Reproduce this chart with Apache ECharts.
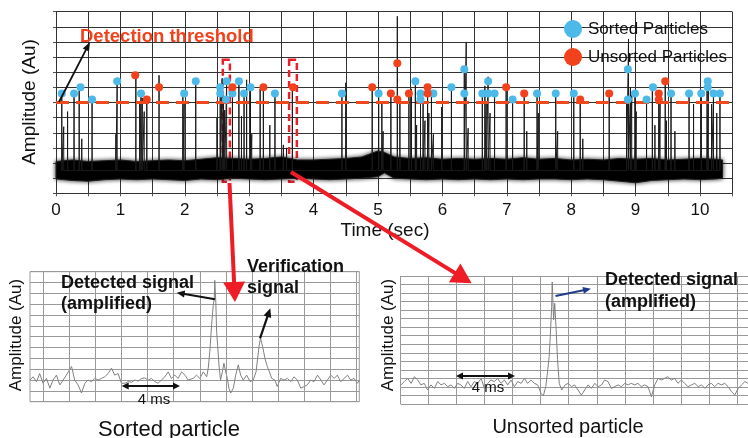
<!DOCTYPE html>
<html>
<head>
<meta charset="utf-8">
<script src="https://cdn.jsdelivr.net/npm/echarts@6/dist/echarts.min.js"></script>
<style>
  html, body { margin: 0; padding: 0; background: #fff; }
  #chart { width: 748px; height: 438px; }
</style>
</head>
<body>
<div id="chart"></div>
<script>
// ---- main recording (time in sec, amplitude in grid units) ----
var threshold = 6;
var spikeBase = 1.5;
// [time, peak] of every spike above the noise floor
var spikes = [
  [0.09, 6.5], [0.12, 4.4], [0.18, 5.4], [0.28, 6.5], [0.36, 7.0], [0.40, 3.6], [0.56, 6.0],
  [0.93, 3.9], [0.95, 7.4], [1.24, 7.7], [1.30, 5.9], [1.32, 6.5], [1.34, 6.3], [1.37, 5.4],
  [1.41, 6.1], [1.60, 7.8], [1.97, 6.5], [1.99, 5.9], [2.17, 7.4], [2.50, 5.0], [2.55, 7.0],
  [2.58, 7.6], [2.60, 6.0], [2.62, 5.5], [2.65, 7.4], [2.74, 7.0], [2.84, 7.4], [2.88, 5.1],
  [2.92, 6.5], [2.96, 7.5], [3.02, 7.0], [3.04, 3.9], [3.17, 6.9], [3.22, 7.0], [3.32, 4.5],
  [3.40, 6.5], [3.53, 3.2], [3.58, 3.0], [3.67, 7.0], [4.44, 6.5], [4.50, 7.3], [4.91, 7.0],
  [5.01, 6.5], [5.06, 5.9], [5.08, 4.1], [5.20, 6.6], [5.30, 11.7], [5.34, 6.2], [5.48, 6.6],
  [5.52, 6.9], [5.58, 7.4], [5.60, 4.5], [5.66, 6.5], [5.70, 5.9], [5.73, 4.8], [5.77, 7.1],
  [5.79, 5.3], [5.83, 6.6], [5.86, 3.9], [5.99, 5.7], [6.14, 6.9], [6.34, 8.2], [6.37, 10.0],
  [6.40, 4.3], [6.62, 6.5], [6.66, 7.1], [6.68, 5.9], [6.71, 7.7], [6.74, 5.3], [6.81, 6.5],
  [6.99, 7.0], [7.09, 6.1], [7.27, 6.6], [7.31, 4.1], [7.47, 6.6], [7.49, 5.3], [7.76, 6.6],
  [7.79, 4.1], [8.04, 6.6], [8.14, 6.1], [8.18, 3.6], [8.59, 6.6], [8.86, 6.1], [8.89, 10.2],
  [8.92, 7.0], [8.94, 6.5], [8.99, 6.6], [9.01, 5.4], [9.17, 6.1], [9.26, 7.1], [9.30, 4.5],
  [9.36, 6.6], [9.38, 6.0], [9.46, 7.4], [9.48, 4.8], [9.55, 6.6], [9.61, 4.1], [9.83, 6.6],
  [9.90, 5.9], [10.02, 6.6], [10.11, 7.5], [10.13, 7.1], [10.18, 5.9], [10.21, 6.6],
  [10.26, 5.3], [10.31, 6.6]
];
var sortedParticles = [
  [0.09, 6.6], [0.28, 6.6], [0.38, 7.0], [0.56, 6.2], [0.95, 7.4], [1.32, 6.6], [1.99, 6.6],
  [2.17, 7.4], [2.55, 7.0], [2.55, 6.6], [2.65, 7.4], [2.64, 6.2], [2.74, 6.6], [2.84, 7.4],
  [2.92, 6.6], [3.02, 7.0], [3.40, 6.6], [4.44, 6.6], [5.01, 6.6], [5.58, 7.4], [5.66, 6.6],
  [5.66, 6.2], [5.86, 6.6], [6.14, 7.0], [6.34, 8.2], [6.34, 6.6], [6.62, 6.6], [6.71, 7.4],
  [6.71, 6.6], [6.81, 6.6], [7.09, 6.2], [7.47, 6.6], [7.76, 6.6], [8.04, 6.6], [8.88, 8.2],
  [8.88, 6.2], [8.99, 6.6], [9.17, 6.2], [9.27, 7.0], [9.55, 6.6], [9.83, 6.6], [10.02, 6.6],
  [10.12, 7.4], [10.12, 7.0], [10.21, 6.6], [10.31, 6.6]
];
var unsortedParticles = [
  [1.23, 7.8], [1.41, 6.2], [1.60, 7.0], [2.74, 7.0], [3.22, 7.0], [3.68, 7.0], [4.91, 7.0],
  [5.20, 6.6], [5.30, 8.6], [5.30, 6.2], [5.48, 6.6], [5.77, 7.0], [5.77, 6.6], [6.99, 7.0],
  [7.27, 6.6], [8.14, 6.2], [8.59, 6.6], [9.36, 6.6], [9.36, 6.2], [9.46, 7.4]
];
// noise floor envelope
var noiseT = [0, 0.25, 0.5, 0.75, 1, 1.25, 1.5, 1.75, 2, 2.25, 2.5, 2.75, 3, 3.25, 3.5, 3.75, 4,
  4.25, 4.5, 4.75, 5, 5.1, 5.25, 5.5, 5.75, 6, 6.25, 6.5, 6.75, 7, 7.25, 7.5, 7.75, 8, 8.25,
  8.5, 8.75, 9, 9.25, 9.5, 9.75, 10, 10.25, 10.35];
var noiseUpper = [2.1, 2.2, 2.1, 2.15, 2.2, 2.1, 2.15, 2.2, 2.15, 2.25, 2.35, 2.3, 2.25, 2.3,
  2.4, 2.2, 2.2, 2.25, 2.3, 2.4, 2.8, 2.7, 2.4, 2.3, 2.35, 2.25, 2.3, 2.25, 2.3, 2.25, 2.35,
  2.25, 2.3, 2.2, 2.25, 2.2, 2.3, 2.25, 2.3, 2.2, 2.25, 2.3, 2.25, 2.2];
var noiseLower = [0.95, 0.85, 0.8, 0.9, 0.95, 0.9, 0.95, 0.9, 0.85, 0.95, 0.9, 1.0, 0.95, 0.9,
  0.95, 1.0, 0.95, 0.9, 0.95, 1.0, 1.1, 1.35, 1.0, 0.95, 0.9, 0.95, 0.9, 0.95, 0.9, 0.95, 0.9,
  0.95, 0.95, 0.9, 0.95, 0.9, 0.8, 0.7, 0.85, 0.9, 0.95, 0.9, 0.95, 1.0];
// dashed boxes marking the zoomed windows [t0, t1]
var zoomWindows = [[2.59, 2.70], [3.62, 3.74]];
var windowLow = 0.77, windowHigh = 8.83;

// ---- amplified traces (grid units) ----
var sortedTrace = [
  [-0.5, 2.0], [-0.38, 2.3], [-0.25, 1.85], [-0.13, 2.6], [0, 1.7], [0.13, 2.15], [0.26, 1.25],
  [0.38, 2.0], [0.51, 2.45], [0.64, 1.55], [0.77, 2.0], [0.89, 2.45], [1.09, 3.25], [1.21, 2.0],
  [1.34, 1.55], [1.47, 0.8], [1.6, 1.7], [1.72, 2.0], [1.85, 1.85], [1.98, 2.15], [2.11, 2.0],
  [2.23, 2.15], [2.36, 2.3], [2.49, 2.6], [2.62, 3.1], [2.74, 2.45], [2.87, 2.6], [3.0, 1.7],
  [3.13, 1.7], [3.26, 1.85], [3.38, 1.8], [3.51, 2.0], [3.64, 1.9], [3.77, 2.15], [3.89, 2.2],
  [4.02, 2.0], [4.15, 2.15], [4.28, 1.85], [4.4, 1.7], [4.53, 2.0], [4.66, 2.3], [4.79, 2.75],
  [4.91, 2.15], [5.04, 2.45], [5.17, 2.15], [5.3, 2.75], [5.43, 2.45], [5.55, 2.0], [5.62, 2.0],
  [5.74, 2.15], [5.87, 2.45], [6.0, 2.15], [6.13, 2.75], [6.26, 2.3], [6.32, 3.1], [6.38, 4.6],
  [6.45, 7.1], [6.51, 8.9], [6.55, 9.5], [6.57, 11.2], [6.61, 9.2], [6.64, 6.5], [6.68, 5.2],
  [6.73, 3.4], [6.79, 2.0], [6.86, 2.75], [6.92, 3.55], [6.99, 2.75], [7.05, 2.15], [7.11, 1.25],
  [7.18, 0.8], [7.28, 1.25], [7.37, 2.45], [7.47, 3.4], [7.56, 2.45], [7.66, 2.0], [7.79, 2.45],
  [7.92, 1.85], [8.04, 2.0], [8.15, 2.75], [8.21, 4.0], [8.27, 5.2], [8.32, 5.85], [8.4, 5.1],
  [8.49, 4.0], [8.58, 3.25], [8.66, 2.75], [8.75, 2.15], [8.87, 2.0], [8.96, 1.4], [9.09, 2.15],
  [9.22, 2.0], [9.35, 2.15], [9.48, 1.85], [9.6, 2.3], [9.73, 2.0], [9.86, 1.25], [9.99, 1.4],
  [10.11, 1.55], [10.24, 2.0], [10.37, 1.85], [10.5, 2.45], [10.63, 2.0], [10.75, 1.55],
  [10.88, 2.0], [11.01, 2.45], [11.14, 2.15], [11.26, 2.45], [11.39, 1.85], [11.52, 2.15],
  [11.65, 2.45], [11.77, 2.0], [11.9, 2.15], [12.03, 1.7], [12.1, 2.0]
];
var unsortedTrace = [
  [0.01, 2.24], [0.13, 2.63], [0.25, 3.0], [0.37, 2.42], [0.49, 3.2], [0.61, 2.81], [0.72, 2.24],
  [0.84, 2.42], [0.96, 1.64], [1.08, 2.24], [1.2, 1.83], [1.32, 2.63], [1.44, 2.24], [1.56, 2.42],
  [1.68, 2.03], [1.8, 2.24], [1.92, 1.83], [2.03, 2.42], [2.15, 2.24], [2.27, 1.83], [2.39, 2.63],
  [2.51, 2.03], [2.63, 2.63], [2.75, 2.42], [2.87, 3.0], [2.99, 1.83], [3.11, 2.42], [3.22, 2.81],
  [3.34, 2.63], [3.46, 3.0], [3.58, 2.42], [3.7, 2.81], [3.82, 2.24], [3.94, 2.81], [4.06, 2.03],
  [4.18, 2.63], [4.3, 2.42], [4.42, 3.0], [4.53, 2.42], [4.65, 2.81], [4.77, 2.42], [4.89, 2.24],
  [5.01, 1.25], [5.09, 0.94], [5.18, 2.03], [5.25, 4.0], [5.3, 5.55], [5.34, 7.9], [5.39, 11.4],
  [5.41, 14.3], [5.46, 9.85], [5.5, 11.8], [5.55, 8.7], [5.6, 5.2], [5.66, 2.42], [5.75, 1.64],
  [5.87, 2.24], [5.98, 2.42], [6.1, 2.03], [6.21, 2.24], [6.33, 1.64], [6.45, 1.05], [6.57, 1.64],
  [6.69, 2.24], [6.81, 1.83], [6.93, 2.42], [7.05, 2.03], [7.17, 2.24], [7.28, 2.81], [7.4, 2.63],
  [7.52, 1.83], [7.64, 2.03], [7.76, 2.24], [7.88, 2.03], [8.0, 2.42], [8.12, 2.24], [8.23, 2.42],
  [8.35, 2.24], [8.47, 2.42], [8.59, 2.03], [8.71, 2.24], [8.83, 2.03], [8.95, 0.86], [9.07, 2.24],
  [9.19, 3.0], [9.31, 2.81], [9.42, 3.0], [9.54, 3.2], [9.66, 2.81], [9.78, 3.0], [9.9, 2.42],
  [10.02, 2.81], [10.14, 2.42], [10.26, 2.03], [10.38, 2.24], [10.5, 2.42], [10.62, 2.03],
  [10.74, 2.24], [10.86, 1.83], [10.97, 2.24], [11.09, 2.42], [11.21, 2.03], [11.33, 2.42],
  [11.45, 2.24], [11.57, 2.42], [11.69, 2.03], [11.81, 1.44], [11.93, 1.05], [12.05, 1.83],
  [12.17, 2.24], [12.29, 2.63], [12.4, 2.42]
];
var sortedPanelLines = [0, 1, 2, 3, 4, 5, 6, 7, 8, 9, 10, 11, 12];

var FONT = '"Liberation Sans", Arial, sans-serif';
var BLUE = '#4db9e9', ORANGE = '#f2421b', RED = '#ee1c25';

// spikes drawn as up-down strokes from the noise floor
var spikeLine = [];
spikes.forEach(function (s) {
  spikeLine.push([s[0], spikeBase], [s[0], s[1]], [s[0], spikeBase]);
});

function txt(x, y, text, size, opt) {
  opt = opt || {};
  return {
    type: 'text', x: x, y: y, rotation: opt.rot || 0, z: 50,
    style: {
      text: text, fill: opt.color || '#111',
      font: (opt.weight || 'normal') + ' ' + size + 'px ' + FONT,
      textAlign: opt.align || 'left', align: opt.align || 'left',
      textVerticalAlign: 'middle', verticalAlign: 'middle'
    }
  };
}
function head(x1, y1, x2, y2, len, w, color) {
  var dx = x2 - x1, dy = y2 - y1, d = Math.sqrt(dx * dx + dy * dy);
  var ux = dx / d, uy = dy / d;
  var bx = x2 - ux * len, by = y2 - uy * len;
  return {
    type: 'polygon', z: 50,
    shape: { points: [[x2, y2], [bx - uy * w / 2, by + ux * w / 2], [bx + uy * w / 2, by - ux * w / 2]] },
    style: { fill: color }
  };
}
function arrow(x1, y1, x2, y2, color, lw, len, w, both) {
  var dx = x2 - x1, dy = y2 - y1, d = Math.sqrt(dx * dx + dy * dy);
  var ux = dx / d, uy = dy / d;
  var out = [{
    type: 'line', z: 50,
    shape: { x1: both ? x1 + ux * len * 0.8 : x1, y1: both ? y1 + uy * len * 0.8 : y1,
             x2: x2 - ux * len * 0.8, y2: y2 - uy * len * 0.8 },
    style: { stroke: color, lineWidth: lw }
  }, head(x1, y1, x2, y2, len, w, color)];
  if (both) out.push(head(x2, y2, x1, y1, len, w, color));
  return out;
}

var graphics = [].concat(
  [txt(80, 37, 'Detection threshold', 18.5, { color: ORANGE, weight: 'bold' })],
  arrow(59, 102, 90, 42, '#111', 1.8, 9, 7),
  [txt(385, 231, 'Time (sec)', 19, { align: 'center' })],
  [txt(30, 102, 'Amplitude (Au)', 19, { align: 'center', rot: Math.PI / 2 })],
  arrow(229.5, 183, 235, 302, RED, 4, 20, 22),
  arrow(291, 172, 471.7, 283.3, RED, 4, 20, 22),
  // sorted particle panel
  [txt(61, 283, 'Detected signal', 18, { weight: 'bold' }),
   txt(61, 304, '(amplified)', 18, { weight: 'bold' }),
   txt(247, 267, 'Verification', 18, { weight: 'bold' }),
   txt(247, 288.5, 'signal', 18, { weight: 'bold' })],
  arrow(215, 299.3, 176.7, 292.7, '#111', 2, 8, 7),
  arrow(260, 338.3, 270.3, 308.3, '#111', 2.2, 9, 8),
  arrow(121.7, 386, 180, 386, '#111', 2, 7, 7, true),
  [txt(154, 400, '4 ms', 15, { align: 'center' }),
   txt(169, 430, 'Sorted particle', 22, { align: 'center' }),
   txt(16.7, 335, 'Amplitude (Au)', 17, { align: 'center', rot: Math.PI / 2 })],
  // unsorted particle panel
  [txt(388.3, 335, 'Amplitude (Au)', 17, { align: 'center', rot: Math.PI / 2 }),
   txt(605, 280, 'Detected signal', 18, { weight: 'bold' }),
   txt(605, 301.7, '(amplified)', 18, { weight: 'bold' })],
  arrow(555.5, 296, 591, 288.7, '#1f3c88', 2.2, 8, 7),
  arrow(456, 376, 515, 376, '#111', 2, 7, 7, true),
  [txt(488, 388, '4 ms', 15, { align: 'center' }),
   txt(568, 427, 'Unsorted particle', 20, { align: 'center' })]
);

var hiddenAxis = {
  axisLine: { show: false }, axisTick: { show: false }, axisLabel: { show: false }
};

var chart = echarts.init(document.getElementById('chart'));
chart.setOption({
  animation: false,
  textStyle: { fontFamily: FONT },
  grid: [
    { left: 56, top: 11.7, width: 676.2, height: 181.6, outerBoundsMode: 'none' },
    { left: 30, top: 271.7, width: 329.3, height: 130, outerBoundsMode: 'none',
      show: true, borderColor: '#999', borderWidth: 1 },
    { left: 400.7, top: 276, width: 347.3, height: 128, outerBoundsMode: 'none' }
  ],
  legend: {
    orient: 'vertical', left: 559, top: 15, itemWidth: 18, itemHeight: 18, itemGap: 10, z: 20,
    icon: 'circle', data: ['Sorted Particles', 'Unsorted Particles'],
    textStyle: { fontSize: 17, color: '#111', fontFamily: FONT, padding: [0, 0, 0, 1] }
  },
  xAxis: [
    { gridIndex: 0, type: 'value', min: 0, max: 10.5, interval: 0.5,
      axisLine: { show: true, lineStyle: { color: '#333' } },
      axisTick: { show: true, length: 3, lineStyle: { color: '#555' } },
      axisLabel: { fontSize: 17, color: '#111', margin: 9,
        formatter: function (v) { return Number.isInteger(v) ? String(v) : ''; } },
      splitLine: { show: true, lineStyle: { color: '#333', width: 1 } } },
    Object.assign({ gridIndex: 1, type: 'value', min: -0.5, max: 12.1,
      splitLine: { show: false } }, hiddenAxis),
    Object.assign({ gridIndex: 2, type: 'value', min: 0, max: 12.4, interval: 1,
      splitLine: { show: true, lineStyle: { color: '#999', width: 1 } } }, hiddenAxis)
  ],
  yAxis: [
    { gridIndex: 0, type: 'value', min: 0, max: 12, interval: 1,
      axisLine: { show: true, lineStyle: { color: '#333' } },
      axisTick: { show: true, length: 3, lineStyle: { color: '#555' } },
      axisLabel: { show: false },
      splitLine: { show: true, lineStyle: { color: '#333', width: 1 } } },
    Object.assign({ gridIndex: 1, type: 'value', min: 0, max: 12, interval: 1,
      splitLine: { show: true, lineStyle: { color: '#999', width: 1 } } }, hiddenAxis),
    Object.assign({ gridIndex: 2, type: 'value', min: 0, max: 15, interval: 1,
      splitLine: { show: true, lineStyle: { color: '#999', width: 1 } } }, hiddenAxis)
  ],
  series: [
    {
      name: 'noise', type: 'custom', xAxisIndex: 0, yAxisIndex: 0, silent: true,
      data: [[0, 0]],
      renderItem: function (params, api) {
        var pts = [];
        for (var i = 0; i < noiseT.length; i++) pts.push(api.coord([noiseT[i], noiseUpper[i]]));
        for (var j = noiseT.length - 1; j >= 0; j--) pts.push(api.coord([noiseT[j], noiseLower[j]]));
        return { type: 'polygon', shape: { points: pts },
          style: { fill: '#000', stroke: '#222', lineWidth: 1, shadowBlur: 4, shadowColor: 'rgba(0,0,0,0.8)' } };
      }
    },
    {
      name: 'spikes', type: 'line', xAxisIndex: 0, yAxisIndex: 0, silent: true,
      data: spikeLine, showSymbol: false, symbol: 'none',
      lineStyle: { color: '#1a1a1a', width: 1 }
    },
    {
      name: 'threshold', type: 'line', xAxisIndex: 0, yAxisIndex: 0, silent: true, z: 5,
      data: [[0, threshold], [10.5, threshold]], showSymbol: false, symbol: 'none',
      lineStyle: { color: '#f04a1c', width: 3, type: [13, 7] },
      markArea: {
        silent: true,
        itemStyle: { color: 'rgba(0,0,0,0)', borderColor: '#e8202a', borderWidth: 2.5, borderType: [7, 4] },
        data: zoomWindows.map(function (w) {
          return [{ coord: [w[0], windowHigh] }, { coord: [w[1], windowLow] }];
        })
      }
    },
    {
      name: 'Sorted Particles', type: 'scatter', xAxisIndex: 0, yAxisIndex: 0, z: 6,
      data: sortedParticles, symbolSize: 8, itemStyle: { color: BLUE, opacity: 1 }
    },
    {
      name: 'Unsorted Particles', type: 'scatter', xAxisIndex: 0, yAxisIndex: 0, z: 6,
      data: unsortedParticles, symbolSize: 8, itemStyle: { color: ORANGE, opacity: 1 }
    },
    {
      name: 'sorted trace', type: 'line', xAxisIndex: 1, yAxisIndex: 1, silent: true,
      data: sortedTrace, showSymbol: false, symbol: 'none',
      lineStyle: { color: '#808080', width: 1 },
      markLine: {
        silent: true, symbol: ['none', 'none'], label: { show: false },
        lineStyle: { color: '#999', width: 1, type: 'solid' },
        data: sortedPanelLines.map(function (v) { return { xAxis: v }; })
      }
    },
    {
      name: 'unsorted trace', type: 'line', xAxisIndex: 2, yAxisIndex: 2, silent: true,
      data: unsortedTrace, showSymbol: false, symbol: 'none',
      lineStyle: { color: '#808080', width: 1 }
    }
  ],
  graphic: graphics
});
</script>
</body>
</html>
